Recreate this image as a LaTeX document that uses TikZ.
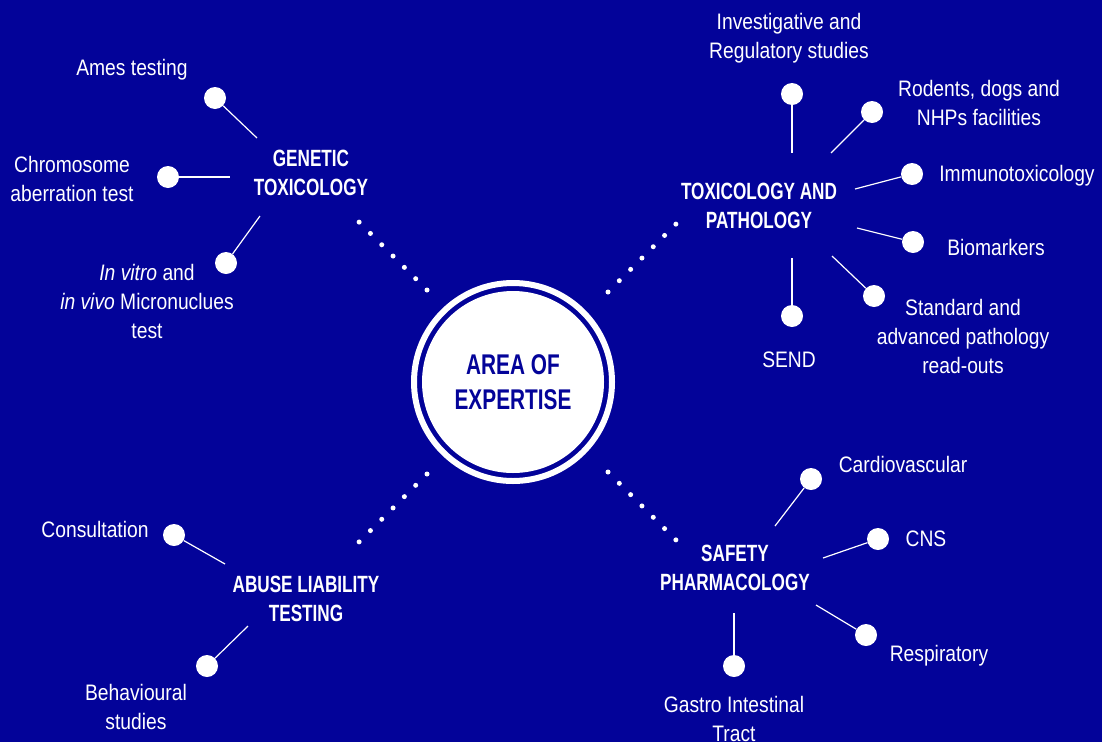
\documentclass[tikz,border=0pt]{standalone}
\usepackage{fontspec}
\setmainfont[FakeStretch=0.86]{Liberation Sans}
\newfontfamily\headfont[FakeStretch=0.73]{Liberation Sans}
\definecolor{expblue}{RGB}{3,3,153}

\begin{document}
\begin{tikzpicture}[x=1pt,y=-1pt,
    leaf/.style={circle,fill=white,minimum size=22pt,inner sep=0pt},
    txt/.style={text=white,align=center,inner sep=0pt,font=\fontsize{22.4}{29}\selectfont},
    heading/.style={text=white,align=center,inner sep=0pt,font=\headfont\bfseries\fontsize{23.5}{28.5}\selectfont},
    link/.style={draw=white,line width=1.2pt},
    dotline/.style={draw=white,line width=5pt,line cap=round,dash pattern=on 0pt off 16pt}]

  \fill[expblue] (0,0) rectangle (1102,742);

  % centre
  \node[circle,fill=white,minimum size=182pt,inner sep=0pt,text=expblue,align=center,
        font=\headfont\bfseries\fontsize{28.5}{35}\selectfont] (area) at (513,382) {AREA OF\\EXPERTISE};
  \draw[white,line width=6pt] (area.center) circle[radius=99pt];

  % groups
  \node[heading] (gen) at (311,173) {GENETIC\\TOXICOLOGY};
  \node[heading] (tox) at (759,206) {TOXICOLOGY AND\\PATHOLOGY};
  \node[heading] (abu) at (306,599) {ABUSE LIABILITY\\TESTING};
  \node[heading] (saf) at (735,568) {SAFETY\\PHARMACOLOGY};

  \coordinate (gen_a) at (427,290); \coordinate (gen_b) at (359,222);
  \coordinate (tox_a) at (608,292); \coordinate (tox_b) at (676,224);
  \coordinate (abu_a) at (427,474); \coordinate (abu_b) at (359,542);
  \coordinate (saf_a) at (608,472); \coordinate (saf_b) at (676,540);
  \draw[dotline] (gen_a) -- (gen_b);
  \draw[dotline] (tox_a) -- (tox_b);
  \draw[dotline] (abu_a) -- (abu_b);
  \draw[dotline] (saf_a) -- (saf_b);

  % genetic toxicology
  \node[leaf] (gen_1) at (215,98) {};
  \node[leaf] (gen_2) at (168,177) {};
  \node[leaf] (gen_3) at (226,263) {};
  \coordinate (gen_1e) at (257,138);
  \coordinate (gen_2e) at (230,177);
  \coordinate (gen_3e) at (260,216);
  \draw[link] (gen_1) -- (gen_1e);
  \draw[link] (gen_2) -- (gen_2e);
  \draw[link] (gen_3) -- (gen_3e);
  \node[txt] (gen_1t) at (132,70) {Ames testing};
  \node[txt] (gen_2t) at (72,179) {Chromosome\\aberration test};
  \node[txt] (gen_3t) at (147,301) {\textit{In vitro} and\\\textit{in vivo} Micronuclues\\test};

  % toxicology and pathology
  \node[leaf] (tox_1) at (792,94) {};
  \node[leaf] (tox_2) at (872,112) {};
  \node[leaf] (tox_3) at (912,174) {};
  \node[leaf] (tox_4) at (913,242) {};
  \node[leaf] (tox_5) at (874,296) {};
  \node[leaf] (tox_6) at (792,316) {};
  \coordinate (tox_1e) at (792,153);
  \coordinate (tox_2e) at (831,153);
  \coordinate (tox_3e) at (855,189);
  \coordinate (tox_4e) at (857,228);
  \coordinate (tox_5e) at (832,256);
  \coordinate (tox_6e) at (792,258);
  \draw[link] (tox_1) -- (tox_1e);
  \draw[link] (tox_2) -- (tox_2e);
  \draw[link] (tox_3) -- (tox_3e);
  \draw[link] (tox_4) -- (tox_4e);
  \draw[link] (tox_5) -- (tox_5e);
  \draw[link] (tox_6) -- (tox_6e);
  \node[txt] (tox_1t) at (789,38) {Investigative and\\Regulatory studies};
  \node[txt] (tox_2t) at (979,103) {Rodents, dogs and\\NHPs facilities};
  \node[txt] (tox_3t) at (1017,176) {Immunotoxicology};
  \node[txt] (tox_4t) at (996,247) {Biomarkers};
  \node[txt] (tox_5t) at (963,336) {Standard and\\advanced pathology\\read-outs};
  \node[txt] (tox_6t) at (789,360) {SEND};

  % abuse liability testing
  \node[leaf] (abu_1) at (174,535) {};
  \node[leaf] (abu_2) at (207,666) {};
  \coordinate (abu_1e) at (225,564);
  \coordinate (abu_2e) at (248,626);
  \draw[link] (abu_1) -- (abu_1e);
  \draw[link] (abu_2) -- (abu_2e);
  \node[txt] (abu_1t) at (95,529) {Consultation};
  \node[txt] (abu_2t) at (136,707) {Behavioural\\studies};

  % safety pharmacology
  \node[leaf] (saf_1) at (811,479) {};
  \node[leaf] (saf_2) at (878,539) {};
  \node[leaf] (saf_3) at (866,635) {};
  \node[leaf] (saf_4) at (734,666) {};
  \coordinate (saf_1e) at (775,526);
  \coordinate (saf_2e) at (823,558);
  \coordinate (saf_3e) at (816,605);
  \coordinate (saf_4e) at (734,613);
  \draw[link] (saf_1) -- (saf_1e);
  \draw[link] (saf_2) -- (saf_2e);
  \draw[link] (saf_3) -- (saf_3e);
  \draw[link] (saf_4) -- (saf_4e);
  \node[txt] (saf_1t) at (903,464) {Cardiovascular};
  \node[txt] (saf_2t) at (926,539) {CNS};
  \node[txt] (saf_3t) at (939,656) {Respiratory};
  \node[txt] (saf_4t) at (734,719) {Gastro Intestinal\\Tract};

  \useasboundingbox (0,0) rectangle (1102,742);
\end{tikzpicture}
\end{document}
